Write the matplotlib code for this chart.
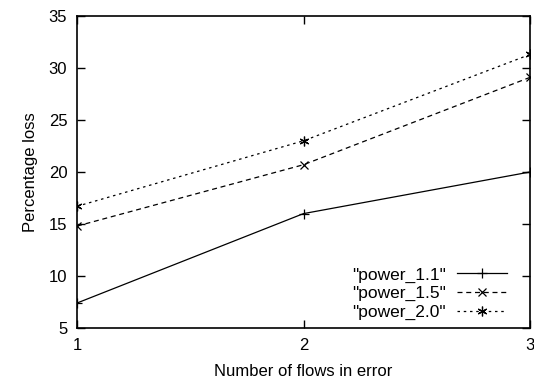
import matplotlib.pyplot as plt

plt.rcParams['font.family'] = ['Liberation Sans', 'DejaVu Sans']

flows = [1, 2, 3]
power_11 = [7.4, 16.0, 20.0]
power_15 = [14.8, 20.7, 29.1]
power_20 = [16.7, 23.0, 31.3]

fig = plt.figure(figsize=(5.34, 3.85), dpi=100)
ax = fig.add_axes([77 / 534, 57 / 385, 453 / 534, 312 / 385])

ax.plot(flows, power_11, color='black', lw=0.9, marker='+', ms=7, mew=0.9,
        label='"power_1.1"')
ax.plot(flows, power_15, color='black', lw=0.9, ls=(0, (4, 3)), marker='x',
        ms=6, mew=0.9, label='"power_1.5"')
ax.plot(flows, power_20, color='black', lw=0.9, ls=(0, (2, 3)), marker=(6, 2, 0),
        ms=7, mew=0.9, label='"power_2.0"')

ax.set_xlim(1, 3)
ax.set_ylim(5, 35)
ax.set_xticks([1, 2, 3])
ax.set_yticks([5, 10, 15, 20, 25, 30, 35])
ax.tick_params(direction='in', top=True, right=True, length=6, width=1,
               labelsize=12, pad=7)
for s in ax.spines.values():
    s.set_linewidth(1.2)

ax.set_xlabel('Number of flows in error', fontsize=12, labelpad=8)
ax.set_ylabel('Percentage loss', fontsize=12, labelpad=8)

ax.legend(loc='lower right', bbox_to_anchor=(0.949, 0.025), frameon=False,
          markerfirst=False, fontsize=12.5, handlelength=2.9, labelspacing=0.2,
          borderaxespad=0, borderpad=0, handletextpad=0.6)

fig.savefig('out.png', dpi=100)
